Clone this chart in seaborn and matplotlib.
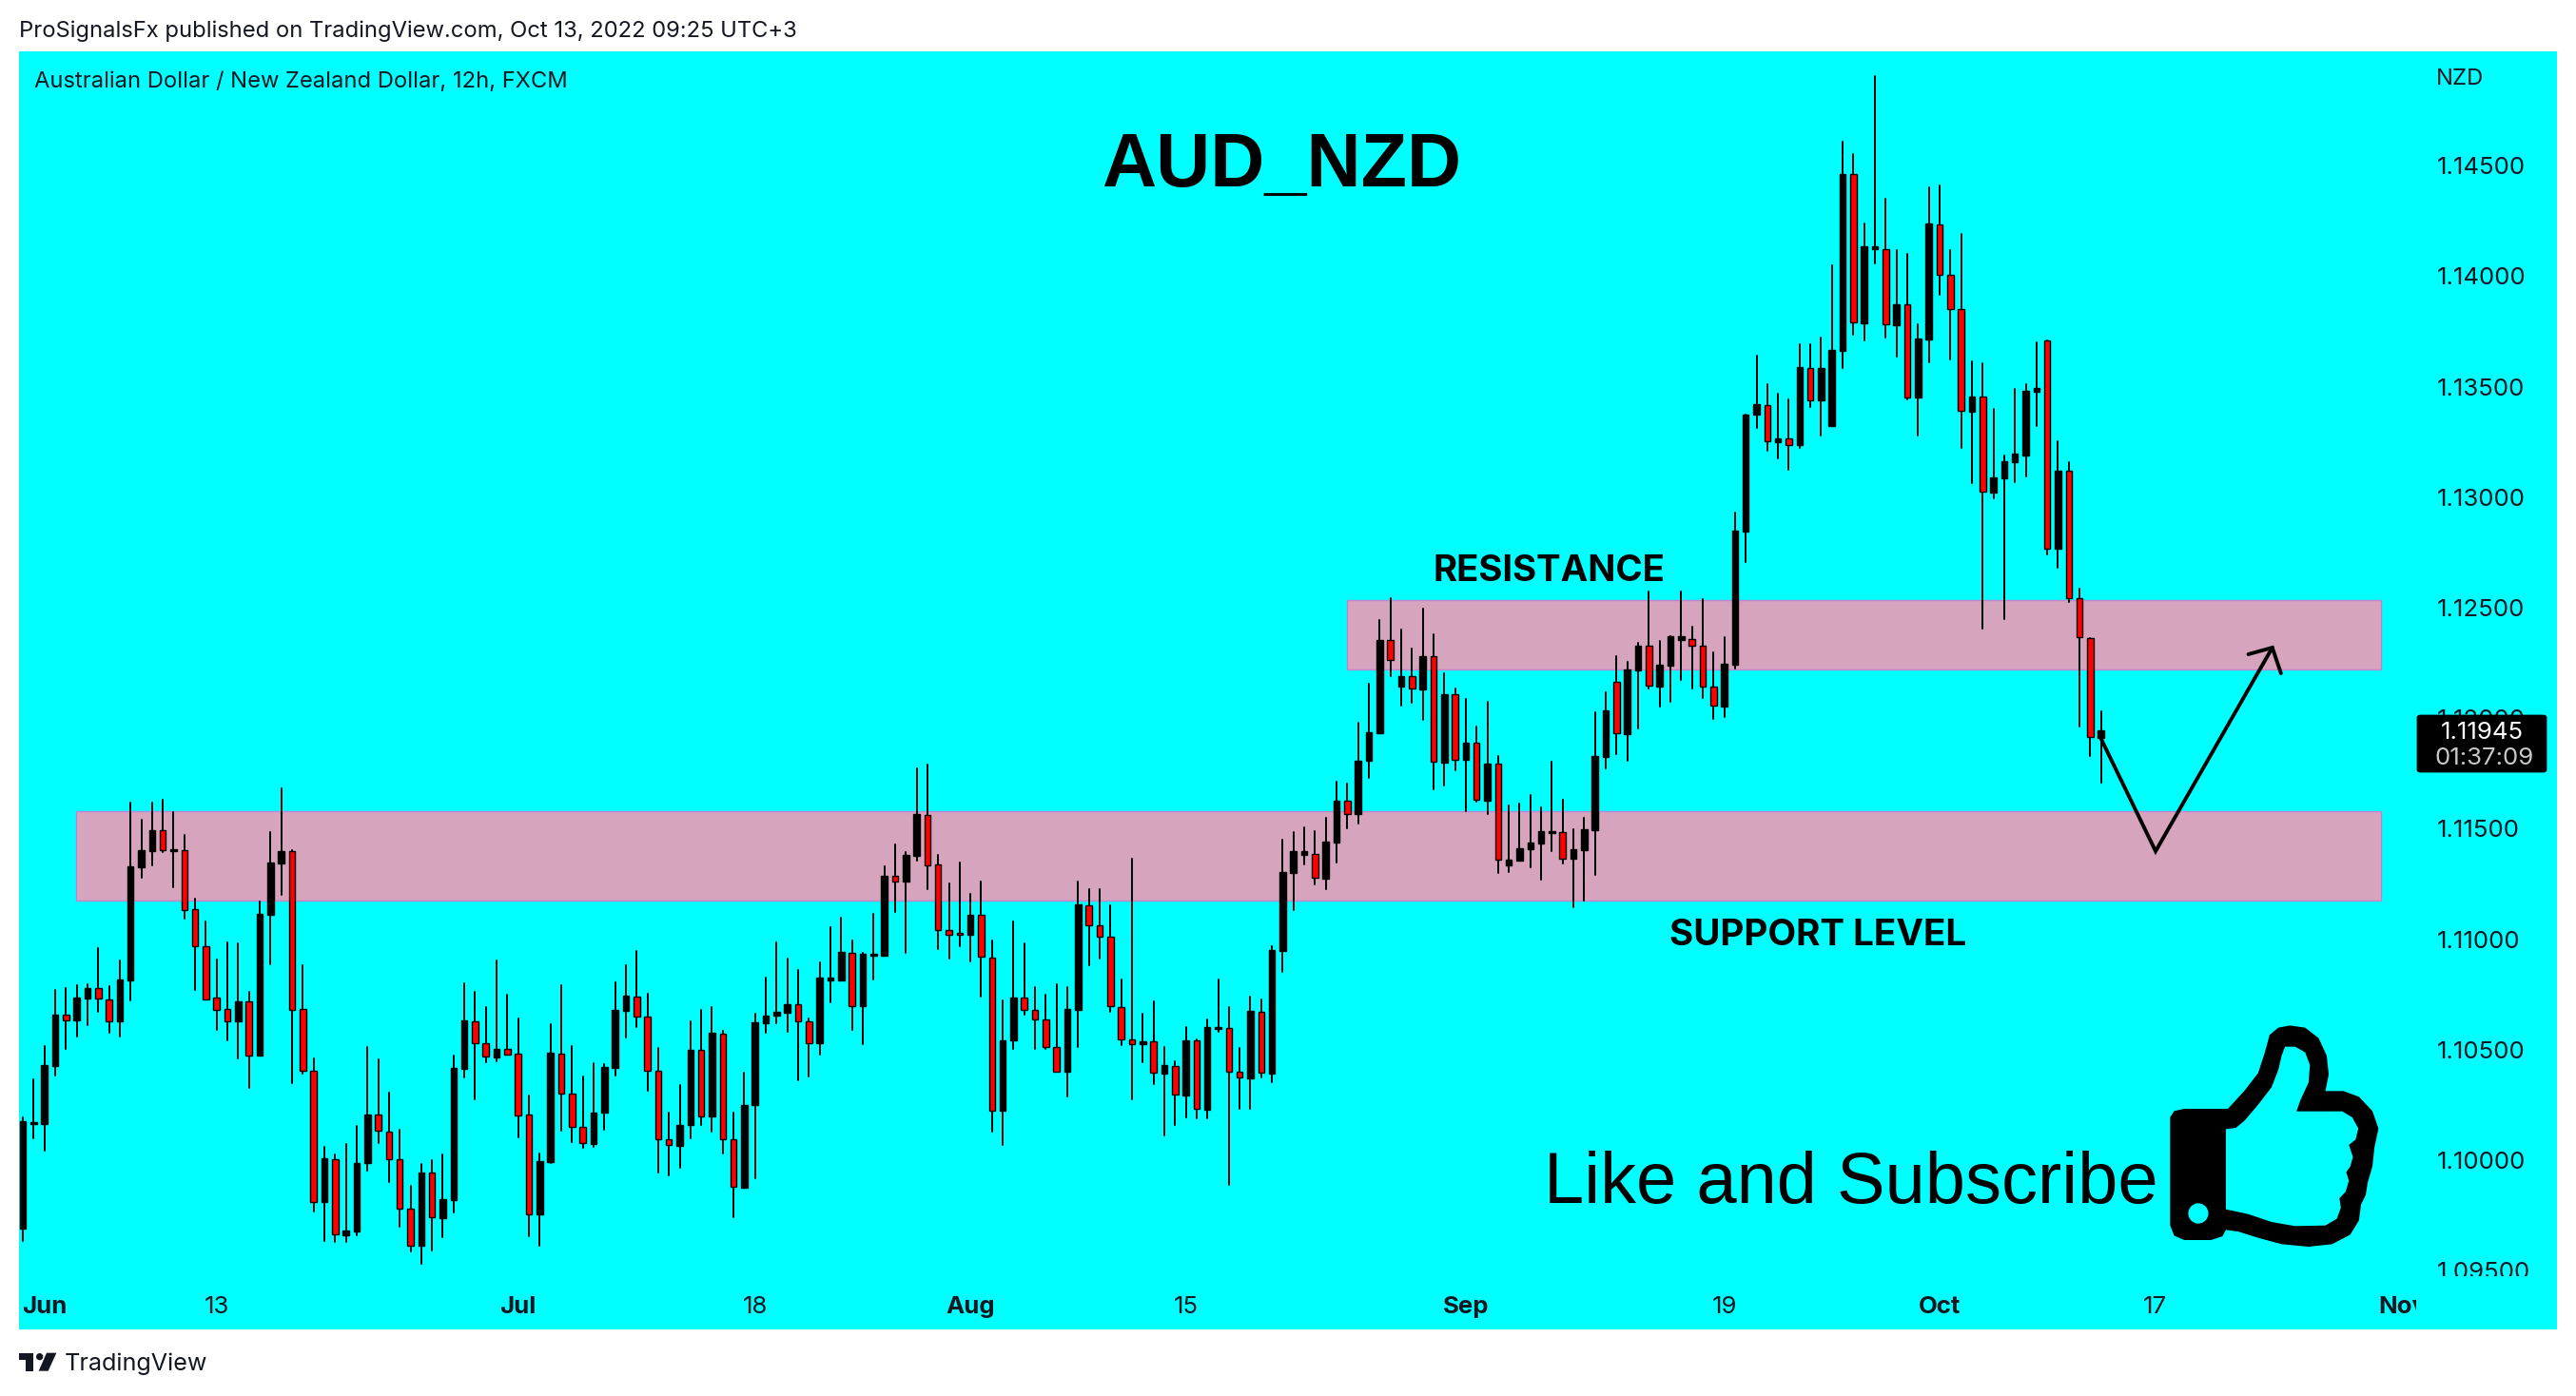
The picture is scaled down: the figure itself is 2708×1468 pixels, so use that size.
from matplotlib import pyplot as plt
from matplotlib.patches import Rectangle, Polygon, FancyBboxPatch
from matplotlib.transforms import Bbox
import seaborn as sns
import pandas as pd
import numpy as np

# AUD/NZD 12h candles, prices in 1e-5 NZD
highs = [110192,110365,110518,110768,110777,110790,110795,110958,110787,110902,
    111616,111541,111616,111630,111574,111470,111185,111078,110907,110984,
    110979,110760,111169,111486,111682,111402,110884,110461,110062,110024,
    110075,110153,110510,110454,110304,110136,109884,109983,110000,110024,
    110472,110800,110763,110694,110902,110747,110643,110291,110032,110617,
    110790,110518,110377,110437,110433,110803,110884,110945,110755,110507,
    110214,110342,110630,110678,110691,110584,110217,110395,110661,110824,
    110987,110910,110859,110640,110894,111052,111096,110996,110938,111113,
    111328,111430,111396,111771,111788,111379,111251,111345,111206,111262,
    110996,110721,111078,110979,110785,110747,110798,110785,111262,111225,
    111225,111155,110819,111363,110661,110717,110510,110446,110601,110545,
    110635,110819,110694,110507,110742,110729,110966,111452,111483,111504,
    111488,111548,111711,111703,111978,112155,112443,112542,112400,112314,
    112494,112378,112202,112133,112086,111961,112073,111828,111604,111612,
    111651,111595,111802,111630,111496,111548,112025,112116,112279,112253,
    112340,112572,112348,112370,112572,112413,112537,112297,112365,112932,
    113375,113638,113509,113470,113444,113693,113693,113721,114051,114610,
    114554,114240,114904,114349,114116,114102,113780,114400,114412,114116,
    114189,113616,113604,113397,113189,113488,113509,113699,113707,113251,
    113160,112585,112364,112031]
lows = [109634,110098,110041,110385,110505,110561,110612,110673,110576,110561,
    110721,111276,111335,111396,111233,111094,110772,110729,110591,110540,
    110462,110329,110475,110887,111201,110350,110393,109769,109636,109631,
    109631,109662,109953,110079,109902,109700,109585,109529,109593,109652,
    109764,110375,110276,110441,110449,110477,110105,109657,109614,109988,
    110135,110083,110057,110062,110139,110385,110553,110604,110316,109942,
    109932,109967,110100,110161,110131,110028,109743,109876,109919,110576,
    110620,110582,110363,110380,110479,110716,110815,110591,110526,110819,
    110927,111121,110940,111356,111228,110956,110913,110966,110900,110742,
    110131,110070,110505,110660,110505,110505,110400,110289,110510,110884,
    110910,110673,110521,110276,110441,110345,110113,110161,110195,110191,
    110191,110582,109889,110233,110233,110375,110354,110854,111132,111338,
    111248,111228,111347,111502,111523,111730,111932,112190,112057,112070,
    111992,111678,111696,111764,111579,111622,111566,111300,111304,111356,
    111325,111270,111399,111343,111145,111175,111291,111773,111838,111807,
    111954,112134,112053,112074,112173,112134,112091,111997,112005,112225,
    112707,113314,113209,113175,113124,113223,113409,113278,113322,113584,
    113735,113709,114057,113723,113636,113442,113278,113610,113916,113622,
    113223,113063,112407,112996,112448,113069,113094,113322,112741,112682,
    112527,111962,111829,111708]
opens = [109692,110164,110164,110428,110658,110633,110732,110777,110729,110630,
    110815,111327,111399,111493,111399,111401,111134,110966,110734,110683,
    110630,110717,110475,111111,111343,111397,110683,110406,109812,110006,
    109662,109678,109985,110205,110131,110006,109782,109614,109942,109739,
    109820,110414,110630,110528,110466,110502,110480,110205,109753,109991,
    110484,110299,110149,110074,110215,110419,110676,110742,110648,110403,
    110093,110065,110161,110497,110199,110574,110093,109876,110251,110620,
    110652,110668,110704,110630,110530,110815,110815,110940,110698,110927,
    110927,111285,111262,111378,111564,111336,111040,111027,111020,111108,
    110918,110225,110540,110734,110678,110635,110513,110398,110680,111155,
    111062,111009,110694,110545,110526,110536,110393,110428,110294,110540,
    110230,110592,110596,110398,110372,110673,110393,110948,111300,111383,
    111384,111274,111439,111625,111566,111805,111932,112352,112143,112189,
    112130,112279,111800,112107,111812,111888,111627,111793,111334,111356,
    111407,111433,111480,111483,111364,111403,111493,111825,112163,111928,
    112216,112327,112143,112238,112354,112357,112327,112142,112053,112241,
    112844,113373,113418,113249,113264,113235,113586,113438,113322,113663,
    114460,113786,114122,114124,113778,113871,113450,113713,114236,114007,
    113849,113387,113454,113021,113085,113158,113189,113476,113707,112767,
    113118,112545,112364,111910]
closes = [110176,110174,110429,110658,110633,110736,110778,110731,110630,110818,
    111330,111402,111493,111404,111407,111132,110966,110729,110681,110630,
    110719,110475,111114,111346,111397,110681,110406,109812,110008,109664,
    109682,109986,110207,110133,110006,109782,109614,109944,109741,109823,
    110418,110632,110528,110467,110503,110477,110204,109754,109996,110485,
    110299,110149,110077,110217,110421,110678,110744,110648,110403,110093,
    110067,110161,110497,110200,110576,110093,109878,110251,110624,110652,
    110671,110706,110630,110531,110826,110826,110941,110699,110933,110933,
    111287,111262,111381,111565,111335,111040,111020,111019,111109,110920,
    110225,110541,110736,110678,110635,110513,110400,110684,111157,111062,
    111009,110696,110545,110526,110536,110395,110429,110296,110541,110233,
    110602,110601,110400,110373,110675,110395,110951,111304,111397,111397,
    111277,111442,111627,111568,111807,111937,112354,112262,112190,112133,
    112281,111802,112109,111813,111889,111630,111795,111358,111360,111412,
    111437,111489,111489,111366,111407,111498,111829,112035,111931,112221,
    112328,112146,112242,112370,112371,112327,112142,112056,112245,112847,
    113375,113420,113251,113266,113237,113588,113440,113584,113665,114462,
    113790,114136,114136,113780,113873,113452,113717,114238,114007,113849,
    113389,113456,113023,113089,113162,113195,113482,113493,112768,113120,
    112545,112365,111915,111945]

price_ticks = [1.095, 1.10, 1.105, 1.11, 1.115, 1.12, 1.125, 1.13, 1.135, 1.14, 1.145]
date_labels = ['Jun', '13', 'Jul', '18', 'Aug', '15', 'Sep', '19', 'Oct', '17', 'Nov']
date_bars = [2, 18, 46, 68, 88, 108, 134, 158, 178, 198, 221]
month_labels = ['Jun', 'Jul', 'Aug', 'Sep', 'Oct', 'Nov']

# drawn zones and the projected path, in bar index / price
support_zone = (4.95, 219.0, 1.11175, 1.11579)
resistance_zone = (123.0, 219.0, 1.12220, 1.12534)
path_bars = [193.0, 198.06, 208.9]
path_prices = [1.11906, 1.11398, 1.12319]
head_bars = [206.67, 208.9, 209.7]
head_prices = [1.12289, 1.12319, 1.12203]

W, H = 2708, 1468
DPI = 200
PANE_RIGHT = 2540
INK = '#131722'
CYAN = '#00ffff'

sns.set_theme(style='white')
plt.rcParams['font.family'] = ['Inter', 'DejaVu Sans']
plt.rcParams['axes.unicode_minus'] = False


def fx(x):
    return x / W


def fy(y):
    return 1 - y / H


def addText(x, y, text, size, **kw):
    """Figure text placed by pixel position, y measured from the top"""
    kw.setdefault('color', INK)
    kw.setdefault('va', 'center')
    return fig.text(fx(x), fy(y), text, fontsize=size, **kw)


def addPanelShape(shape):
    shape.set_zorder(-1)
    fig.add_artist(shape)


def getThumb(ax, outline, color):
    """Polygon from points read in the zoomed crop of the icon"""
    pts = [(fx(1600 + a / 1.415), fy(1050 + b / 3.0)) for a, b in outline]
    patch = Polygon(pts, closed=True, facecolor=color, edgecolor='none',
                    transform=fig.transFigure, clip_on=False, zorder=6)
    ax.add_artist(patch)


if __name__ == '__main__':
    df = pd.DataFrame({'bar': np.arange(len(highs)), 'high': highs, 'low': lows,
                       'open': opens, 'close': closes})
    df[['high', 'low', 'open', 'close']] = df[['high', 'low', 'open', 'close']] / 1e5
    df['top'] = df[['open', 'close']].max(axis=1)
    df['bottom'] = df[['open', 'close']].min(axis=1)
    df['body'] = df['top'] - df['bottom']
    df['rising'] = df['close'] >= df['open']

    fig = plt.figure(figsize=(W / DPI, H / DPI), dpi=DPI, facecolor='white')
    # whole chart panel is cyan, the axes only covers the candle pane
    addPanelShape(Rectangle((fx(20), fy(1398)), fx(2668), 1344 / H, facecolor=CYAN,
                            edgecolor='none', transform=fig.transFigure))
    ax = fig.add_axes([fx(20), fy(1342), fx(PANE_RIGHT - 20), 1288 / H], facecolor=CYAN)

    for x0, x1, y0, y1 in (support_zone, resistance_zone):
        ax.add_patch(Rectangle((x0, y0), x1 - x0, y1 - y0, facecolor='#d6a5bd',
                               edgecolor='#bd85cf', linewidth=0.5, zorder=1))

    wicks = df.melt(id_vars='bar', value_vars=['high', 'low'], value_name='price')
    sns.lineplot(data=wicks, x='bar', y='price', units='bar', estimator=None, sort=False,
                 color='black', linewidth=0.72, ax=ax, zorder=2, legend=False)

    for rising, color in ((True, 'black'), (False, '#ff0000')):
        part = df[df['rising'] == rising]
        sns.barplot(data=part, x='bar', y='body', bottom=part['bottom'].to_numpy(),
                    native_scale=True, color=color, saturation=1, width=0.58,
                    edgecolor='black', linewidth=0.5, ax=ax, zorder=3, errorbar=None)

    ax.plot(path_bars, path_prices, color='black', linewidth=1.4, zorder=4,
            solid_joinstyle='miter')
    ax.plot(head_bars, head_prices, color='black', linewidth=1.4, zorder=4,
            solid_joinstyle='miter')

    ax.set_xlim(-0.353, 222.26)
    ax.set_ylim(1.09475, 1.15017)
    ax.set_xlabel('')
    ax.set_ylabel('')
    sns.despine(ax=ax, left=True, bottom=True)

    # labels cut off at the pane edge, as on the original
    ax.set_xticks(date_bars)
    ax.set_xticklabels(date_labels, fontsize=9.3, color=INK)
    ax.tick_params(axis='x', length=0, pad=7.6)
    for label in ax.get_xticklabels():
        if label.get_text() in month_labels:
            label.set_fontweight('bold')
        label.set_clip_box(Bbox([[0, 0], [PANE_RIGHT, H]]))
        label.set_clip_on(True)
    ax.yaxis.tick_right()
    ax.set_yticks(price_ticks)
    ax.set_yticklabels(['%.5f' % p for p in price_ticks], fontsize=9.3, color=INK)
    ax.tick_params(axis='y', length=0, pad=7.9)
    for label in ax.get_yticklabels():
        label.set_clip_box(Bbox([[0, H - 1342], [W, H]]))
        label.set_clip_on(True)

    # last price flag
    ax.add_artist(FancyBboxPatch((fx(2542), fy(811)), fx(134), 58 / H,
                                 boxstyle='round,pad=0,rounding_size=0.001',
                                 facecolor='black', edgecolor='black', linewidth=1,
                                 transform=fig.transFigure, clip_on=False, zorder=5))
    ax.add_artist(plt.Text(fx(2609), fy(771), '1.11945', color='white', fontsize=9.3,
                           ha='center', va='center', transform=fig.transFigure, zorder=7,
                           clip_on=False))
    ax.add_artist(plt.Text(fx(2612), fy(798), '01:37:09', color='#c8c8c8', fontsize=9.3,
                           ha='center', va='center', transform=fig.transFigure, zorder=7,
                           clip_on=False))

    # header, footer and drawings
    addText(20, 33, 'ProSignalsFx published on TradingView.com, Oct 13, 2022 09:25 UTC+3', 8.56)
    addText(36, 86, 'Australian Dollar / New Zealand Dollar, 12h, FXCM', 8.55)
    addText(2561, 83, 'NZD', 8.6)
    addText(68, 1434, 'TradingView', 9.05)
    addText(1347, 176, 'AUD_NZD', 28.5, ha='center', fontweight='bold', color='black',
            family='Liberation Sans')
    addText(1628, 601, 'RESISTANCE', 13.8, ha='center', fontweight='bold', color='black')
    addText(1911, 984, 'SUPPORT LEVEL', 13.9, ha='center', fontweight='bold', color='black')
    addText(1623, 1265, 'Like and Subscribe', 27.3, va='baseline', color='black',
            family='Liberation Sans')

    # TradingView logo
    logo = [[(60, 248), (105, 248), (105, 305), (82, 305), (82, 270), (60, 270)],
            [(147, 248), (178, 248), (152, 305), (122, 305)]]
    for shape in logo:
        addPanelShape(Polygon([(fx(a / 3.0), fy(1340 + b / 3.0)) for a, b in shape],
                              closed=True, facecolor=INK, edgecolor='none',
                              transform=fig.transFigure))
    addPanelShape(Polygon([(fx((125 + 11 * np.cos(t)) / 3.0),
                            fy(1340 + (260 + 11 * np.sin(t)) / 3.0))
                           for t in np.linspace(0, 2 * np.pi, 24)],
                          closed=True, facecolor=INK, edgecolor='none',
                          transform=fig.transFigure))

    # thumbs up icon
    getThumb(ax, [(985, 348), (1050, 348), (1075, 290), (1095, 235), (1105, 170), (1112, 115),
                  (1125, 92), (1142, 85), (1165, 92), (1185, 125), (1197, 180), (1200, 240),
                  (1195, 292), (1222, 292), (1245, 310), (1265, 355), (1274, 410), (1268, 470),
                  (1265, 530), (1258, 580), (1255, 620), (1248, 650), (1245, 700), (1232, 745),
                  (1205, 775), (1170, 783), (1130, 775), (1095, 755), (1065, 735), (1047, 730),
                  (1042, 750), (1025, 762), (985, 762), (970, 748), (964, 715), (964, 375),
                  (970, 355)], 'black')
    getThumb(ax, [(1047, 412), (1062, 408), (1075, 385), (1095, 335), (1115, 280), (1125, 225),
                  (1130, 180), (1135, 152), (1150, 152), (1165, 170), (1172, 210), (1170, 265),
                  (1158, 320), (1152, 356), (1220, 356), (1235, 375), (1244, 410), (1240, 445),
                  (1230, 462), (1236, 500), (1232, 530), (1226, 548), (1230, 575), (1225, 610),
                  (1216, 630), (1218, 660), (1212, 695), (1195, 716), (1150, 718), (1115, 705),
                  (1080, 680), (1047, 665)], CYAN)
    getThumb(ax, [(1006 + 15 * np.cos(t), 678 + 32 * np.sin(t))
                  for t in np.linspace(0, 2 * np.pi, 24)], CYAN)

    fig.savefig('out.png', dpi=DPI)
